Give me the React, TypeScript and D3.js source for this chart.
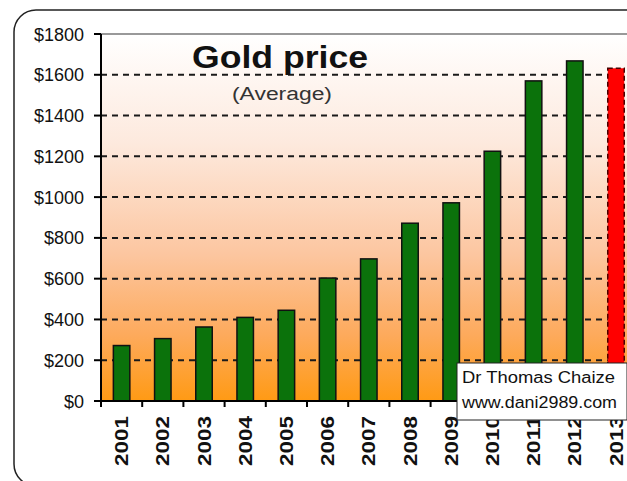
import React from "react";
import * as d3 from "d3";

const years = ["2001","2002","2003","2004","2005","2006","2007","2008","2009","2010","2011","2012","2013"];
const prices = [272, 306, 363, 410, 445, 603, 697, 872, 972, 1225, 1570, 1668, 1632];
const yTicks = [0, 200, 400, 600, 800, 1000, 1200, 1400, 1600, 1800];
const titleText = "Gold price";
const subtitleText = "(Average)";
const creditLines = ["Dr Thomas Chaize", "www.dani2989.com"];

const W = 627, H = 481;
const left = 101, top = 34, bottom = 401;
const bandW = 41.2;

export default function App() {
  const x = d3.scaleBand<string>().domain(years).range([left, left + bandW * years.length]).paddingInner(0.6).paddingOuter(0.3);
  const y = d3.scaleLinear().domain([0, 1800]).range([bottom, top]);
  const right = left + bandW * years.length;
  const font = "'Liberation Sans', Arial, sans-serif";
  return (
    <svg width={W} height={H} style={{ position: "absolute", left: 0, top: 0, background: "#fff" }}>
      <defs>
        <linearGradient id="bg" x1="0" y1="0" x2="0" y2="1">
          <stop offset="0" stopColor="#ffffff" />
          <stop offset="0.3" stopColor="#fde9dd" />
          <stop offset="0.6" stopColor="#fcc6a0" />
          <stop offset="0.82" stopColor="#fdaa5c" />
          <stop offset="1" stopColor="#ff9a14" />
        </linearGradient>
      </defs>
      <rect x={14} y={10} width={650} height={476} rx={22} ry={22} fill="#fff" stroke="#222" strokeWidth={1.5} />
      <rect x={left} y={top} width={right - left} height={bottom - top} fill="url(#bg)" />
      <line x1={left} x2={right} y1={top} y2={top} stroke="#999" strokeWidth={2} />
      {yTicks.filter(t => t > 0 && t < 1800).map(t => (
        <line key={t} x1={left} x2={right} y1={y(t)} y2={y(t)} stroke="#1a1a1a" strokeWidth={2} strokeDasharray="6,5" />
      ))}
      {years.map((yr, i) => (
        <rect key={yr} x={x(yr)} y={y(prices[i])} width={x.bandwidth()} height={bottom - y(prices[i])}
          fill={i === years.length - 1 ? "#ff0000" : "#0b720b"}
          stroke={i === years.length - 1 ? "#4a0000" : "#111"} strokeWidth={1.5}
          strokeDasharray={i === years.length - 1 ? "5,3" : undefined} />
      ))}
      <line x1={left} x2={left} y1={top} y2={bottom} stroke="#000" strokeWidth={2} />
      <line x1={left} x2={right} y1={bottom} y2={bottom} stroke="#000" strokeWidth={2} />
      {yTicks.map(t => (
        <g key={t}>
          <line x1={left - 7} x2={left} y1={y(t)} y2={y(t)} stroke="#000" strokeWidth={2} />
          <text x={84} y={y(t) + 6.5} textAnchor="end" fontFamily={font} fontSize={18} fill="#111">{"$" + t}</text>
        </g>
      ))}
      {d3.range(years.length + 1).map(i => (
        <line key={i} x1={left + i * bandW} x2={left + i * bandW} y1={bottom} y2={bottom + 6} stroke="#000" strokeWidth={2} />
      ))}
      {years.map(yr => {
        const cx = (x(yr) as number) + x.bandwidth() / 2 + 6.5;
        return (
          <text key={yr} transform={`translate(${cx},${416}) rotate(-90)`} textAnchor="end" fontFamily={font}
            fontWeight="bold" fontSize={19} textLength={50} lengthAdjust="spacingAndGlyphs" fill="#111">{yr}</text>
        );
      })}
      <text x={280} y={68} textAnchor="middle" fontFamily={font} fontWeight="bold" fontSize={32}
        textLength={176} lengthAdjust="spacingAndGlyphs" fill="#111">{titleText}</text>
      <text x={282} y={100} textAnchor="middle" fontFamily={font} fontSize={18}
        textLength={100} lengthAdjust="spacingAndGlyphs" fill="#333">{subtitleText}</text>
      <rect x={457} y={363} width={170} height={57} fill="#fff" stroke="#222" strokeWidth={1} />
      {creditLines.map((s, i) => (
        <text key={s} x={462} y={383 + i * 25} fontFamily={font} fontSize={16} fill="#111"
          textLength={153 + i * 2} lengthAdjust="spacingAndGlyphs">{s}</text>
      ))}
    </svg>
  );
}
